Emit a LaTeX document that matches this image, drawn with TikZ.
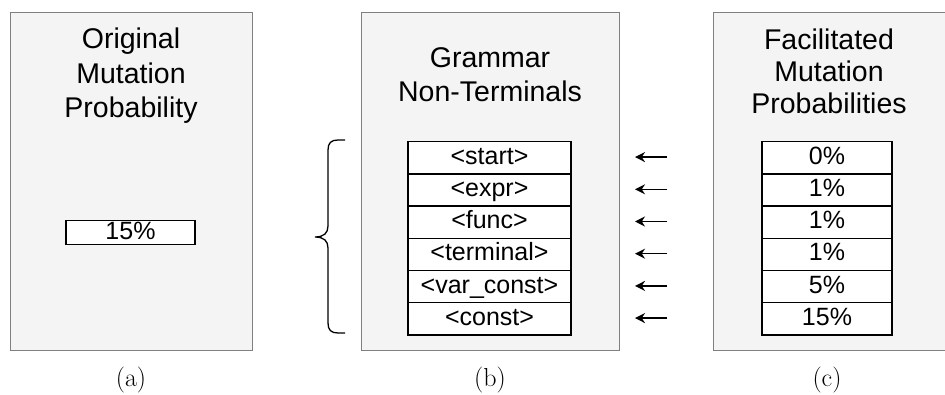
\documentclass[tikz,border=0pt]{standalone}
\usepackage{fontspec}
\setsansfont{Liberation Sans}
\usetikzlibrary{arrows.meta}
\definecolor{panelfill}{HTML}{F4F4F4}
\definecolor{panelline}{HTML}{808080}
\tikzset{
  panel/.style={draw=panelline, fill=panelfill, line width=1.3pt},
  titletext/.style={font=\sffamily\fontsize{28.5}{32}\selectfont, anchor=base, inner sep=0pt},
  cellbox/.style={draw=black, fill=white, line width=1.4pt, inner sep=0pt,
    font=\sffamily\fontsize{25}{28}\selectfont, text height=18pt, text depth=5pt, anchor=north},
  captext/.style={font=\fontsize{26}{30}\selectfont, inner sep=0pt},
  leftarrow/.style={line width=1.5pt, -{Stealth[length=10pt,width=10pt]}},
  bracestyle/.style={line width=1.3pt}
}
\begin{document}
\begin{tikzpicture}[x=1pt,y=-1pt]
\useasboundingbox (0,0) rectangle (945,395);
\clip (0,0) rectangle (945,395);
% panels
\node[panel, minimum width=242pt, minimum height=338pt, inner sep=0pt, anchor=north west] (pa) at (10,12) {};
\node[panel, minimum width=258pt, minimum height=338pt, inner sep=0pt, anchor=north west] (pb) at (361,12) {};
\node[panel, minimum width=240pt, minimum height=338pt, inner sep=0pt, anchor=north west] (pc) at (713,12) {};
% titles
\node[titletext] (ta1) at (131,49) {Original};
\node[titletext] (ta2) at (131,84) {Mutation};
\node[titletext] (ta3) at (131,118) {Probability};
\node[titletext] (tb1) at (490,68) {Grammar};
\node[titletext] (tb2) at (490,102) {Non-Terminals};
\node[titletext] (tc1) at (829,50) {Facilitated};
\node[titletext] (tc2) at (829,82) {Mutation};
\node[titletext] (tc3) at (829,114) {Probabilities};
% (a) cell
\node[cellbox, minimum width=129pt, minimum height=24pt, text height=17pt, text depth=3pt] (a1) at (130.5,220) {15\%};
% (b) cells
\foreach \t [count=\i] in {<start>,<expr>,<func>,<terminal>,<var\_const>,<const>}{
  \node[cellbox, minimum width=163pt, minimum height=32.2pt] (b\i) at (489.5,{141+32.2*(\i-1)}) {\t};
}
% (c) cells
\foreach \t [count=\i] in {0\%,1\%,1\%,1\%,5\%,15\%}{
  \node[cellbox, minimum width=130pt, minimum height=32.2pt] (c\i) at (827,{141+32.2*(\i-1)}) {\t};
}
% arrows
\foreach \i in {1,...,6}{
  \coordinate (ar\i) at (667,{157.1+32.2*(\i-1)});
  \coordinate (al\i) at (635,{157.1+32.2*(\i-1)});
  \draw[leftarrow] (ar\i) -- (al\i);
}
% brace
\coordinate (brtop) at (345,140);
\coordinate (brbot) at (345,333);
\draw[bracestyle] (brtop) -- (338,140) .. controls (331,140) and (328,143) .. (328,150)
  -- (328,226) .. controls (328,233) and (324,237) .. (315,237)
  .. controls (324,237) and (328,241) .. (328,248)
  -- (328,323) .. controls (328,330) and (331,333) .. (338,333) -- (brbot);
% captions
\node[captext] (capa) at (131,380) {(a)};
\node[captext] (capb) at (490,380) {(b)};
\node[captext] (capc) at (827,380) {(c)};
\end{tikzpicture}
\end{document}
